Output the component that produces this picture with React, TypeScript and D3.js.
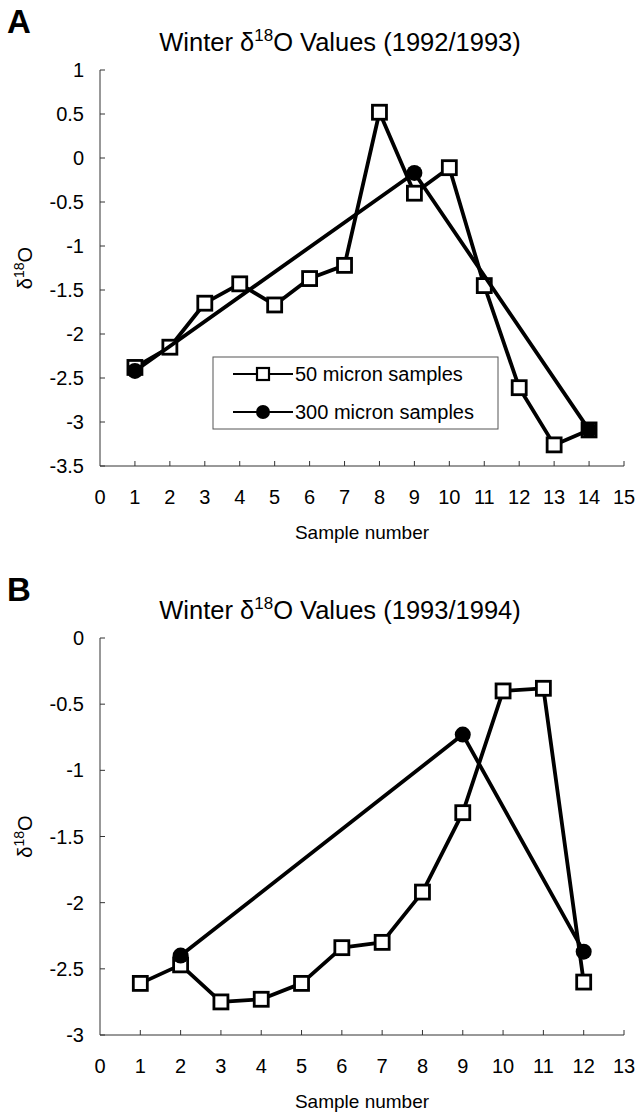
import React from "react";
import * as d3 from "d3";

// ---------- Data ----------
const titleA = "(1992/1993)";
const titleB = "(1993/1994)";

const samplesA50 = [1, 2, 3, 4, 5, 6, 7, 8, 9, 10, 11, 12, 13, 14];
const valuesA50 = [-2.38, -2.15, -1.65, -1.43, -1.67, -1.37, -1.22, 0.52, -0.4, -0.11, -1.45, -2.61, -3.26, -3.09];
const samplesA300 = [1, 9, 14];
const valuesA300 = [-2.42, -0.17, -3.09];

const samplesB50 = [1, 2, 3, 4, 5, 6, 7, 8, 9, 10, 11, 12];
const valuesB50 = [-2.61, -2.47, -2.75, -2.73, -2.61, -2.34, -2.3, -1.92, -1.32, -0.4, -0.38, -2.6];
const samplesB300 = [2, 9, 12];
const valuesB300 = [-2.4, -0.73, -2.37];

const xTicksA = [0, 1, 2, 3, 4, 5, 6, 7, 8, 9, 10, 11, 12, 13, 14, 15];
const yTicksA = [1, 0.5, 0, -0.5, -1, -1.5, -2, -2.5, -3, -3.5];
const xTicksB = [0, 1, 2, 3, 4, 5, 6, 7, 8, 9, 10, 11, 12, 13];
const yTicksB = [0, -0.5, -1, -1.5, -2, -2.5, -3];

const legendLabels = ["50 micron samples", "300 micron samples"];

const FONT = "'Liberation Sans', Arial, Helvetica, sans-serif";

type PanelProps = {
  letter: string;
  yearLabel: string;
  top: number;
  bottom: number;
  xTicks: number[];
  yTicks: number[];
  s50: number[];
  v50: number[];
  s300: number[];
  v300: number[];
  legend?: boolean;
};

const Square = ({ x, y, size, sw = 2.8 }: { x: number; y: number; size: number; sw?: number }) => (
  <rect x={x - size / 2} y={y - size / 2} width={size} height={size} fill="#fff" stroke="#000" strokeWidth={sw} />
);

function Panel(p: PanelProps) {
  const left = 100;
  const right = 624;
  const xMax = p.xTicks[p.xTicks.length - 1];
  const x = d3.scaleLinear().domain([0, xMax]).range([left, right]);
  const y = d3
    .scaleLinear()
    .domain([p.yTicks[p.yTicks.length - 1], p.yTicks[0]])
    .range([p.bottom, p.top]);
  const line = d3
    .line<[number, number]>()
    .x((d) => x(d[0]))
    .y((d) => y(d[1]));
  const d50 = p.s50.map((s, i) => [s, p.v50[i]] as [number, number]);
  const d300 = p.s300.map((s, i) => [s, p.v300[i]] as [number, number]);
  const titleY = p.top - 19;
  const letterY = p.top - 37;
  const midY = (p.top + p.bottom) / 2;
  return (
    <g fontFamily={FONT} fill="#000">
      <text x={7} y={letterY} fontSize={33} fontWeight="bold">
        {p.letter}
      </text>
      <text x={340} y={titleY} fontSize={25.5} textAnchor="middle">
        Winter δ
        <tspan fontSize={17} dy={-10}>
          18
        </tspan>
        <tspan dy={10}>O Values {p.yearLabel}</tspan>
      </text>
      <text transform={`translate(32,${midY}) rotate(-90)`} fontSize={20} textAnchor="middle">
        δ
        <tspan fontSize={14} dy={-8}>
          18
        </tspan>
        <tspan dy={8}>O</tspan>
      </text>
      <line x1={left} x2={left} y1={p.top} y2={p.bottom} stroke="#333" strokeWidth={1} />
      <line x1={left} x2={right} y1={p.bottom} y2={p.bottom} stroke="#333" strokeWidth={1} />
      {p.yTicks.map((t) => (
        <g key={"y" + t}>
          <line x1={left} x2={left + 5} y1={y(t)} y2={y(t)} stroke="#333" strokeWidth={1} />
          <text x={84} y={y(t) + 7} fontSize={20} textAnchor="end">
            {String(t)}
          </text>
        </g>
      ))}
      {p.xTicks.map((t) => (
        <g key={"x" + t}>
          {t > 0 && <line x1={x(t)} x2={x(t)} y1={p.bottom} y2={p.bottom - 5} stroke="#333" strokeWidth={1} />}
          <text x={x(t)} y={p.bottom + 38} fontSize={20} textAnchor="middle">
            {String(t)}
          </text>
        </g>
      ))}
      <text x={362} y={p.bottom + 73} fontSize={19} textAnchor="middle">
        Sample number
      </text>
      <path d={line(d50) || ""} fill="none" stroke="#000" strokeWidth={3.8} strokeLinejoin="round" />
      {d50.map((d, i) => (
        <Square key={"s" + i} x={x(d[0])} y={y(d[1])} size={14} />
      ))}
      <path d={line(d300) || ""} fill="none" stroke="#000" strokeWidth={3.8} strokeLinejoin="round" />
      {d300.map((d, i) => (
        <circle key={"c" + i} cx={x(d[0])} cy={y(d[1])} r={8} fill="#000" />
      ))}
      {p.legend && (
        <g>
          <rect x={213} y={357} width={285} height={72} fill="#fff" stroke="#555" strokeWidth={1} />
          <line x1={233} x2={293} y1={374} y2={374} stroke="#000" strokeWidth={2.2} />
          <Square x={263} y={374} size={12} sw={2.2} />
          <text x={295} y={381} fontSize={20}>
            {legendLabels[0]}
          </text>
          <line x1={233} x2={293} y1={412} y2={412} stroke="#000" strokeWidth={2.2} />
          <circle cx={263} cy={412} r={7} fill="#000" />
          <text x={295} y={419} fontSize={20}>
            {legendLabels[1]}
          </text>
        </g>
      )}
    </g>
  );
}

export default function App() {
  return (
    <svg width={639} height={1112} style={{ position: "absolute", left: 0, top: 0, background: "#fff" }}>
      <rect width={639} height={1112} fill="#fff" />
      <Panel
        letter="A"
        yearLabel={titleA}
        top={70}
        bottom={466}
        xTicks={xTicksA}
        yTicks={yTicksA}
        s50={samplesA50}
        v50={valuesA50}
        s300={samplesA300}
        v300={valuesA300}
        legend
      />
      <Panel
        letter="B"
        yearLabel={titleB}
        top={638}
        bottom={1035}
        xTicks={xTicksB}
        yTicks={yTicksB}
        s50={samplesB50}
        v50={valuesB50}
        s300={samplesB300}
        v300={valuesB300}
      />
    </svg>
  );
}
